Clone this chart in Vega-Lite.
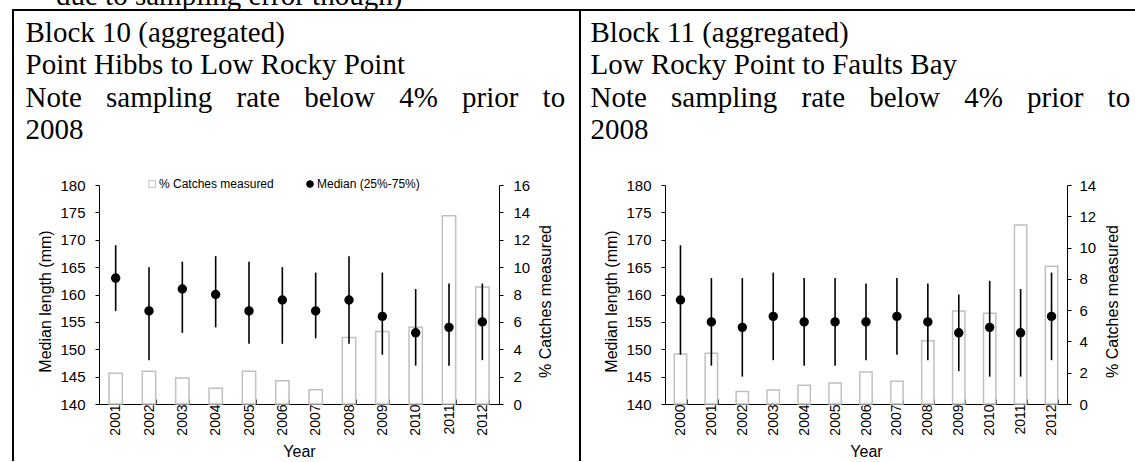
{
  "$schema": "https://vega.github.io/schema/vega-lite/v6.json",
  "background": "white",
  "padding": {"left": 5, "top": -18, "right": -6, "bottom": -10},
  "title": {"text": "due to sampling error though)", "anchor": "start", "frame": "group", "dx": 43, "offset": -2, "font": "Liberation Serif", "fontSize": 29, "fontWeight": "normal", "color": "black"},
  "datasets": {
    "b10": [
      {"year": "2001", "median": 163, "q25": 157, "q75": 169, "pct": 2.25},
      {"year": "2002", "median": 157, "q25": 148, "q75": 165, "pct": 2.4},
      {"year": "2003", "median": 161, "q25": 153, "q75": 166, "pct": 1.9},
      {"year": "2004", "median": 160, "q25": 154, "q75": 167, "pct": 1.15},
      {"year": "2005", "median": 157, "q25": 151, "q75": 166, "pct": 2.4},
      {"year": "2006", "median": 159, "q25": 151, "q75": 165, "pct": 1.7},
      {"year": "2007", "median": 157, "q25": 152, "q75": 164, "pct": 1.05},
      {"year": "2008", "median": 159, "q25": 151, "q75": 167, "pct": 4.85},
      {"year": "2009", "median": 156, "q25": 149, "q75": 164, "pct": 5.3},
      {"year": "2010", "median": 153, "q25": 147, "q75": 161, "pct": 5.6},
      {"year": "2011", "median": 154, "q25": 147, "q75": 162, "pct": 13.75},
      {"year": "2012", "median": 155, "q25": 148, "q75": 162, "pct": 8.55}
    ],
    "b11": [
      {"year": "2000", "median": 159, "q25": 149, "q75": 169, "pct": 3.2},
      {"year": "2001", "median": 155, "q25": 147, "q75": 163, "pct": 3.25},
      {"year": "2002", "median": 154, "q25": 145, "q75": 163, "pct": 0.8},
      {"year": "2003", "median": 156, "q25": 148, "q75": 164, "pct": 0.9},
      {"year": "2004", "median": 155, "q25": 147, "q75": 163, "pct": 1.2},
      {"year": "2005", "median": 155, "q25": 147, "q75": 163, "pct": 1.35},
      {"year": "2006", "median": 155, "q25": 148, "q75": 162, "pct": 2.05},
      {"year": "2007", "median": 156, "q25": 149, "q75": 163, "pct": 1.45},
      {"year": "2008", "median": 155, "q25": 148, "q75": 162, "pct": 4.05},
      {"year": "2009", "median": 153, "q25": 146, "q75": 160, "pct": 5.95},
      {"year": "2010", "median": 154, "q25": 145, "q75": 162.5, "pct": 5.8},
      {"year": "2011", "median": 153, "q25": 145, "q75": 161, "pct": 11.45},
      {"year": "2012", "median": 156, "q25": 148, "q75": 164, "pct": 8.8}
    ]
  },
  "spacing": 0,
  "bounds": "flush",
  "hconcat": [
    {
      "width": 567,
      "height": 460,
      "view": {"stroke": "black", "strokeWidth": 2, "fill": null},
      "title": {"text": ["Block 10 (aggregated)", "Point Hibbs to Low Rocky Point", "Note\u2002\u00a0\u200asampling\u2002\u00a0\u200arate\u2002\u00a0\u200abelow\u2002\u00a0\u200a4%\u2002\u00a0\u200aprior\u2002\u00a0\u200ato", "2008"], "anchor": "start", "frame": "group", "dx": 12.5, "offset": -135, "font": "Liberation Serif", "fontSize": 29, "fontWeight": "normal", "lineHeight": 32.5, "color": "black"},
      "data": {"name": "b10"},
      "encoding": {
        "x": {"field": "year", "type": "ordinal", "scale": {"range": [86, 486], "paddingInner": 0.6, "paddingOuter": 0.3},
          "axis": {"title": "Year", "offset": -66, "labelAngle": -90, "labelAlign": "right", "labelBaseline": "middle", "labelFontSize": 14, "labelPadding": 5, "tickBand": "extent", "tickSize": -5, "titleFontSize": 16, "titleY": 52, "titleBaseline": "alphabetic"}}
      },
      "layer": [
        {
          "mark": {"type": "bar", "strokeWidth": 1.5},
          "encoding": {
            "y": {"field": "pct", "type": "quantitative", "scale": {"domain": [0, 16], "range": [394, 175], "nice": false},
              "axis": {"title": "% Catches measured", "orient": "right", "offset": -81, "values": [0, 2, 4, 6, 8, 10, 12, 14, 16], "labelFontSize": 15, "labelPadding": 10, "tickSize": 4, "titleFontSize": 16, "titleX": 51, "titleY": 291, "titleAngle": -90, "titleBaseline": "alphabetic"}},
            "fill": {"datum": "% Catches measured", "type": "nominal", "scale": {"domain": ["% Catches measured", "Median (25%-75%)"], "range": ["white", "black"]}, "legend": {"orient": "none", "legendX": 133, "legendY": 168, "direction": "horizontal", "title": null}},
            "stroke": {"datum": "% Catches measured", "type": "nominal", "scale": {"domain": ["% Catches measured", "Median (25%-75%)"], "range": ["#c0c0c0", "black"]}, "legend": {"orient": "none", "legendX": 133, "legendY": 168, "direction": "horizontal", "title": null}}
          }
        },
        {
          "layer": [
            {
              "mark": {"type": "rule", "color": "black", "strokeWidth": 1.6},
              "encoding": {
                "y": {"field": "q25", "type": "quantitative", "scale": {"domain": [140, 180], "range": [394, 175], "nice": false, "zero": false},
                  "axis": {"title": "Median length (mm)", "orient": "left", "offset": -86, "values": [140, 145, 150, 155, 160, 165, 170, 175, 180], "labelFontSize": 15, "labelPadding": 10, "tickSize": 4, "titleFontSize": 16, "titleX": -49, "titleY": 291, "titleAngle": -90, "titleBaseline": "alphabetic"}},
                "y2": {"field": "q75"}
              }
            },
            {
              "mark": {"type": "point", "filled": true, "size": 55, "opacity": 1},
              "encoding": {
                "y": {"field": "median", "type": "quantitative", "scale": {"domain": [140, 180], "range": [394, 175], "nice": false, "zero": false},
                  "axis": {"title": "Median length (mm)", "orient": "left", "offset": -86, "values": [140, 145, 150, 155, 160, 165, 170, 175, 180], "labelFontSize": 15, "labelPadding": 10, "tickSize": 4, "titleFontSize": 16, "titleX": -49, "titleY": 291, "titleAngle": -90, "titleBaseline": "alphabetic"}},
                "fill": {"datum": "Median (25%-75%)", "type": "nominal", "scale": {"domain": ["% Catches measured", "Median (25%-75%)"], "range": ["white", "black"]}, "legend": {"orient": "none", "legendX": 133, "legendY": 168, "direction": "horizontal", "title": null}},
                "stroke": {"datum": "Median (25%-75%)", "type": "nominal", "scale": {"domain": ["% Catches measured", "Median (25%-75%)"], "range": ["#c0c0c0", "black"]}, "legend": {"orient": "none", "legendX": 133, "legendY": 168, "direction": "horizontal", "title": null}},
                "shape": {"datum": "Median (25%-75%)", "type": "nominal", "scale": {"domain": ["% Catches measured", "Median (25%-75%)"], "range": ["square", "circle"]}, "legend": {"orient": "none", "legendX": 133, "legendY": 168, "direction": "horizontal", "title": null}}
              }
            }
          ]
        }
      ],
      "resolve": {"scale": {"y": "independent"}}
    },
    {
      "width": 562,
      "height": 460,
      "view": {"stroke": "black", "strokeWidth": 2, "fill": null},
      "title": {"text": ["Block 11 (aggregated)", "Low Rocky Point to Faults Bay", "Note\u2002\u00a0\u200asampling\u2002\u00a0\u200arate\u2002\u00a0\u200abelow\u2002\u00a0\u200a4%\u2002\u00a0\u200aprior\u2002\u00a0\u200ato", "2008"], "anchor": "start", "frame": "group", "dx": 10.5, "offset": -135, "font": "Liberation Serif", "fontSize": 29, "fontWeight": "normal", "lineHeight": 32.5, "color": "black"},
      "data": {"name": "b11"},
      "encoding": {
        "x": {"field": "year", "type": "ordinal", "scale": {"range": [85, 487], "paddingInner": 0.6, "paddingOuter": 0.3},
          "axis": {"title": "Year", "offset": -66, "labelAngle": -90, "labelAlign": "right", "labelBaseline": "middle", "labelFontSize": 14, "labelPadding": 5, "tickBand": "extent", "tickSize": -5, "titleFontSize": 16, "titleY": 52, "titleBaseline": "alphabetic"}}
      },
      "layer": [
        {
          "mark": {"type": "bar", "strokeWidth": 1.5},
          "encoding": {
            "y": {"field": "pct", "type": "quantitative", "scale": {"domain": [0, 14], "range": [394, 175], "nice": false},
              "axis": {"title": "% Catches measured", "orient": "right", "offset": -75, "values": [0, 2, 4, 6, 8, 10, 12, 14], "labelFontSize": 15, "labelPadding": 8, "tickSize": 4, "titleFontSize": 16, "titleX": 50, "titleY": 291, "titleAngle": -90, "titleBaseline": "alphabetic"}},
            "fill": {"datum": "% Catches measured", "type": "nominal", "scale": {"domain": ["% Catches measured", "Median (25%-75%)"], "range": ["white", "black"]}, "legend": {"orient": "none", "legendX": 132, "legendY": 168, "direction": "horizontal", "title": null}},
            "stroke": {"datum": "% Catches measured", "type": "nominal", "scale": {"domain": ["% Catches measured", "Median (25%-75%)"], "range": ["#c0c0c0", "black"]}, "legend": {"orient": "none", "legendX": 132, "legendY": 168, "direction": "horizontal", "title": null}}
          }
        },
        {
          "layer": [
            {
              "mark": {"type": "rule", "color": "black", "strokeWidth": 1.6},
              "encoding": {
                "y": {"field": "q25", "type": "quantitative", "scale": {"domain": [140, 180], "range": [394, 175], "nice": false, "zero": false},
                  "axis": {"title": "Median length (mm)", "orient": "left", "offset": -85, "values": [140, 145, 150, 155, 160, 165, 170, 175, 180], "labelFontSize": 15, "labelPadding": 10, "tickSize": 4, "titleFontSize": 16, "titleX": -49, "titleY": 291, "titleAngle": -90, "titleBaseline": "alphabetic"}},
                "y2": {"field": "q75"}
              }
            },
            {
              "mark": {"type": "point", "filled": true, "size": 55, "opacity": 1},
              "encoding": {
                "y": {"field": "median", "type": "quantitative", "scale": {"domain": [140, 180], "range": [394, 175], "nice": false, "zero": false},
                  "axis": {"title": "Median length (mm)", "orient": "left", "offset": -85, "values": [140, 145, 150, 155, 160, 165, 170, 175, 180], "labelFontSize": 15, "labelPadding": 10, "tickSize": 4, "titleFontSize": 16, "titleX": -49, "titleY": 291, "titleAngle": -90, "titleBaseline": "alphabetic"}},
                "fill": {"datum": "Median (25%-75%)", "type": "nominal", "scale": {"domain": ["% Catches measured", "Median (25%-75%)"], "range": ["white", "black"]}, "legend": {"orient": "none", "legendX": 132, "legendY": 168, "direction": "horizontal", "title": null}},
                "stroke": {"datum": "Median (25%-75%)", "type": "nominal", "scale": {"domain": ["% Catches measured", "Median (25%-75%)"], "range": ["#c0c0c0", "black"]}, "legend": {"orient": "none", "legendX": 132, "legendY": 168, "direction": "horizontal", "title": null}},
                "shape": {"datum": "Median (25%-75%)", "type": "nominal", "scale": {"domain": ["% Catches measured", "Median (25%-75%)"], "range": ["square", "circle"]}, "legend": {"orient": "none", "legendX": 132, "legendY": 168, "direction": "horizontal", "title": null}}
              }
            }
          ]
        }
      ],
      "resolve": {"scale": {"y": "independent"}}
    }
  ],
  "config": {
    "font": "Liberation Sans",
    "axis": {"grid": false, "labelColor": "black", "titleColor": "black", "domainColor": "black", "tickColor": "black", "labelFont": "Liberation Sans", "titleFont": "Liberation Sans", "titleFontWeight": "normal", "domainWidth": 1, "tickWidth": 1},
    "legend": {"labelFont": "Liberation Sans", "labelFontSize": 12, "labelColor": "black", "symbolSize": 45, "symbolStrokeWidth": 1, "columnPadding": 30, "labelOffset": 1, "padding": 0}
  }
}
